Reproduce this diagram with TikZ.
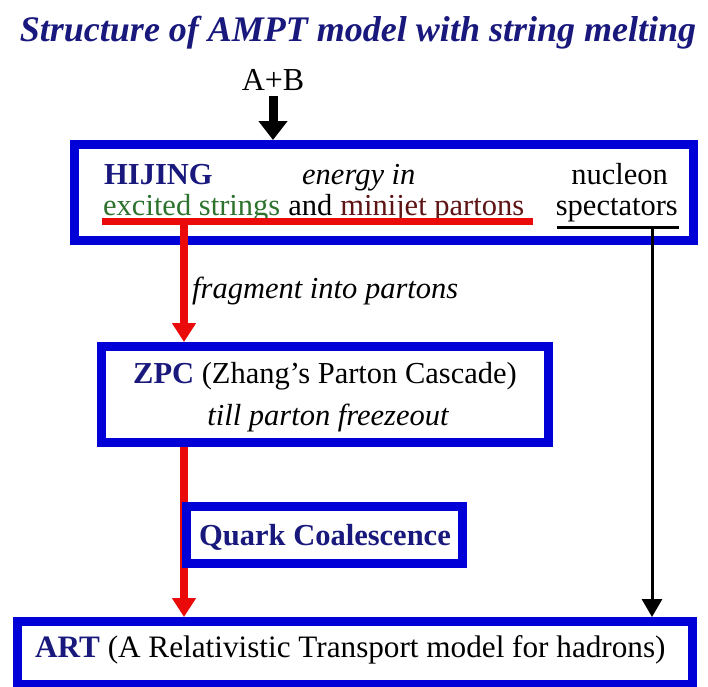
\documentclass[tikz,border=0pt]{standalone}
\usepackage{fontspec}
\setmainfont{Liberation Serif}
\usetikzlibrary{arrows.meta}
\definecolor{boxblue}{RGB}{0,0,215}
\definecolor{navy}{RGB}{25,25,125}
\definecolor{arrred}{RGB}{235,10,10}
\definecolor{strgreen}{RGB}{45,115,45}
\definecolor{jetred}{RGB}{95,20,20}
\tikzset{
  stage/.style={draw=boxblue, line width=9pt, fill=white, inner sep=0pt},
  txt/.style={inner sep=0pt, font=\fontsize{30.5}{34}\selectfont},
  redarrow/.style={draw=arrred, line width=8pt, -{Triangle[length=19pt,width=23pt]}},
  blackarrow/.style={draw=black, line width=3pt, -{Triangle[length=18pt,width=20pt]}},
}
\begin{document}
\begin{tikzpicture}[x=1pt,y=-1pt]
\useasboundingbox (0,0) rectangle (708,686);
% title
\node[inner sep=0pt, text=navy, font=\fontsize{36}{42}\selectfont\bfseries\itshape] (title) at (358,33) {Structure of AMPT model with string melting};
% A+B
\node[txt, anchor=base, font=\fontsize{32}{36}\selectfont] (ab) at (273,90) {A+B};
\coordinate (redtop) at (184,221);
% boxes
\node[stage, minimum width=619pt, minimum height=96pt] (hijing) at (384,192.5) {};
\node[stage, minimum width=447pt, minimum height=96pt] (zpc) at (325,394.5) {};
\node[stage, minimum width=675pt, minimum height=63pt] (art) at (355,653) {};
% red arrow ZPC -> ART, under the Quark Coalescence box
\draw[redarrow] (redtop |- zpc.south) -- (redtop |- art.north);
\node[stage, minimum width=276pt, minimum height=57pt] (qc) at (324.5,535) {};
% input arrow
\coordinate (abs) at (273,96);
\draw[draw=black, line width=9pt, -{Triangle[length=19pt,width=28pt]}] (abs) -- (abs |- hijing.north);
% HIJING text
\node[txt, anchor=base west, text=navy, font=\fontsize{30.5}{34}\selectfont\bfseries] (hij) at (104,184) {HIJING};
\node[txt, anchor=base west, font=\fontsize{30.5}{34}\selectfont\itshape] (energy) at (302,184) {energy in};
\node[txt, anchor=base east] (nucleon) at (668,184) {nucleon};
\node[txt, anchor=base west, text=strgreen] (excited) at (103,215) {excited strings};
\node[txt, anchor=base west] (and) at (excited.base east) {\ and\ \null};
\node[txt, anchor=base west, text=jetred] (minijet) at (and.base east) {minijet partons};
\node[txt, anchor=base east] (spect) at (678,215) {spectators};
% underlines
\coordinate (ulL) at (102,221.5);
\coordinate (ulR) at (533,221.5);
\draw[arrred, line width=7pt] (ulL) -- (ulR);
\coordinate (spL) at (557,227);
\coordinate (spR) at (679,227);
\draw[black, line width=3pt] (spL) -- (spR);
% red arrow to ZPC
\draw[redarrow] (redtop) -- (redtop |- zpc.north);
\node[txt, anchor=base west, font=\fontsize{30.5}{34}\selectfont\itshape] (frag) at (192,298) {fragment into partons};
% ZPC text
\node[txt, anchor=base] (zpct) at (325,383) {\textcolor{navy}{\bfseries ZPC} (Zhang's Parton Cascade)};
\node[txt, anchor=base, font=\fontsize{30.5}{34}\selectfont\itshape] (till) at (328,425) {till parton freezeout};
% QC text
\node[txt, anchor=base, text=navy, font=\fontsize{30.5}{34}\selectfont\bfseries] (qct) at (325,545) {Quark Coalescence};
% black spectator arrow
\coordinate (blktop) at (652,227);
\draw[blackarrow] (blktop) -- (blktop |- art.north);
% ART text
\node[txt, anchor=base west, font=\fontsize{31.2}{35}\selectfont] (artt) at (35,657) {\textcolor{navy}{\bfseries ART} (A Relativistic Transport model for hadrons)};
\end{tikzpicture}
\end{document}
